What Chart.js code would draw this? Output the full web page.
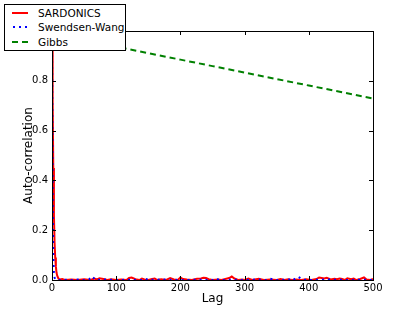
<!DOCTYPE html>
<html>
<head>
<meta charset="utf-8">
<script src="https://cdn.jsdelivr.net/npm/chart.js@4"></script>
<style>
  body { margin: 0; background: #fff; }
  #wrap { position: relative; width: 415px; height: 312px; }
  #legendBox {
    position: absolute; left: 4px; top: 4px; width: 120px; height: 45px;
    border: 1px solid #000; background: #fff;
    font-family: "DejaVu Sans", sans-serif; font-size: 10.5px; color: #000;
  }
  .row { position: absolute; left: 0; height: 14px; line-height: 14px; }
  .row svg { position: absolute; left: 7px; top: 5px; }
  .row span { position: absolute; left: 33px; white-space: nowrap; }
</style>
</head>
<body>
<div id="wrap">
  <canvas id="acChart" width="415" height="312"></canvas>
  <div id="legendBox">
    <div class="row" style="top:1px">
      <svg width="16" height="4"><line x1="0" y1="2" x2="16" y2="2" stroke="#ff0000" stroke-width="2"/></svg>
      <span>SARDONICS</span>
    </div>
    <div class="row" style="top:15px">
      <svg width="16" height="4"><line x1="1" y1="2" x2="16" y2="2" stroke="#0000ff" stroke-width="2" stroke-dasharray="2,4"/></svg>
      <span>Swendsen-Wang</span>
    </div>
    <div class="row" style="top:30px">
      <svg width="16" height="4"><line x1="0" y1="2" x2="16" y2="2" stroke="#008000" stroke-width="2" stroke-dasharray="6,4"/></svg>
      <span>Gibbs</span>
    </div>
  </div>
</div>
<script>
/* ===============================
   DATA
================================ */
const xTicks = [0, 100, 200, 300, 400, 500];
const yTicks = [0.0, 0.2, 0.4, 0.6, 0.8, 1.0];

const sardLags = [0, 1, 2, 3, 4, 5, 6, 7, 8, 10, 12, 16, 20, 30, 40, 50, 60, 66, 70, 74, 80, 86, 92, 100, 108, 116, 120, 124, 130, 136, 140, 144, 150, 156, 160, 164, 170, 178, 184, 190, 196, 200, 204, 210, 218, 226, 232, 236, 240, 244, 250, 258, 264, 270, 276, 280, 284, 290, 296, 300, 306, 312, 318, 322, 330, 340, 350, 356, 362, 368, 374, 380, 388, 396, 404, 412, 416, 420, 424, 428, 434, 440, 444, 448, 452, 456, 460, 466, 470, 474, 480, 486, 490, 496, 500];
const sardVals = [1.0, 0.72, 0.45, 0.26, 0.15, 0.09, 0.055, 0.03, 0.018, 0.006, 0.002, 0.004, 0.0, 0.002, 0.0, 0.003, 0.0, 0.006, 0.002, 0.007, 0.004, 0.0, 0.003, 0.0, 0.002, 0.0, 0.008, 0.01, 0.003, 0.0, 0.006, 0.002, 0.0, 0.004, 0.006, 0.0, 0.003, 0.0, 0.008, 0.002, 0.0, 0.01, 0.004, 0.002, 0.0, 0.005, 0.006, 0.009, 0.008, 0.003, 0.0, 0.002, 0.0, 0.004, 0.008, 0.014, 0.006, 0.0, 0.002, 0.0, 0.006, 0.0, 0.003, 0.005, 0.0, 0.002, 0.0, 0.004, 0.0, 0.003, 0.0, 0.002, 0.0, 0.003, 0.0, 0.004, 0.01, 0.008, 0.006, 0.009, 0.002, 0.005, 0.003, 0.006, 0.004, 0.0, 0.007, 0.003, 0.006, 0.0, 0.004, 0.01, 0.002, 0.0, 0.004];

const swLags = [0, 1, 2, 3, 4, 5, 10, 20, 30, 40, 50, 58, 62, 64, 68, 80, 100, 120, 140, 146, 150, 170, 200, 230, 250, 256, 260, 280, 300, 320, 334, 338, 350, 370, 374, 378, 384, 390, 400, 430, 460, 480, 500];
const swVals = [1.0, 0.32, 0.1, 0.03, 0.01, 0.003, 0.0, 0.001, 0.0, 0.002, 0.0, 0.003, 0.014, 0.01, 0.0, 0.002, 0.0, 0.001, 0.0, 0.005, 0.0, 0.002, 0.0, 0.001, 0.0, 0.006, 0.0, 0.001, 0.0, 0.002, 0.0, 0.006, 0.0, 0.002, 0.009, 0.003, 0.012, 0.002, 0.0, 0.002, 0.0, 0.001, 0.0];

const gibbsLags = [0, 50, 100, 150, 200, 250, 300, 350, 400, 450, 500];
const gibbsVals = [0.99, 0.963, 0.937, 0.911, 0.885, 0.859, 0.833, 0.807, 0.781, 0.755, 0.729];

function toPoints(lags, vals) {
    return lags.map((l, i) => ({ x: l, y: vals[i] }));
}

/* ===============================
   FRAME + INWARD TICKS
================================ */
const framePlugin = {
    id: "framePlugin",
    afterDatasetsDraw(chart) {
        const { ctx, chartArea: a, scales } = chart;
        ctx.save();
        ctx.strokeStyle = "#000";
        ctx.lineWidth = 1;
        ctx.beginPath();
        xTicks.forEach(v => {
            const px = Math.round(scales.x.getPixelForValue(v)) + 0.5;
            ctx.moveTo(px, a.bottom); ctx.lineTo(px, a.bottom - 4);
            ctx.moveTo(px, a.top); ctx.lineTo(px, a.top + 4);
        });
        yTicks.forEach(v => {
            const py = Math.round(scales.y.getPixelForValue(v)) + 0.5;
            ctx.moveTo(a.left, py); ctx.lineTo(a.left + 4, py);
            ctx.moveTo(a.right, py); ctx.lineTo(a.right - 4, py);
        });
        ctx.stroke();
        ctx.strokeRect(Math.round(a.left) + 0.5, Math.round(a.top) + 0.5,
            Math.round(a.right - a.left), Math.round(a.bottom - a.top));
        ctx.restore();
    }
};

/* ===============================
   CHART
================================ */
Chart.defaults.font.family = "'DejaVu Sans', sans-serif";
Chart.defaults.color = "#000";

new Chart(document.getElementById("acChart"), {
    type: "line",
    data: {
        datasets: [{
            label: "SARDONICS",
            data: toPoints(sardLags, sardVals),
            borderColor: "#ff0000",
            borderWidth: 2,
            order: 3
        }, {
            label: "Swendsen-Wang",
            data: toPoints(swLags, swVals),
            borderColor: "#0000ff",
            borderWidth: 2,
            borderDash: [2, 4],
            order: 2
        }, {
            label: "Gibbs",
            data: toPoints(gibbsLags, gibbsVals),
            borderColor: "#008000",
            borderWidth: 2,
            borderDash: [6, 4],
            order: 1
        }]
    },
    options: {
        responsive: false,
        animation: false,
        layout: { padding: { left: 0, top: 31, right: 42, bottom: 0 } },
        elements: { point: { radius: 0 }, line: { tension: 0 } },
        plugins: { legend: { display: false }, tooltip: { enabled: false } },
        scales: {
            x: {
                type: "linear",
                min: 0,
                max: 500,
                afterFit: s => { s.height = 32; },
                afterBuildTicks: s => { s.ticks = xTicks.map(v => ({ value: v })); },
                grid: { display: false, drawTicks: false },
                border: { display: false },
                ticks: { font: { size: 10 }, padding: 2, maxRotation: 0 },
                title: { display: true, text: "Lag", font: { size: 12 }, padding: { top: 0, bottom: 6 } }
            },
            y: {
                type: "linear",
                min: 0,
                max: 1,
                afterFit: s => { s.width = 52; },
                afterBuildTicks: s => { s.ticks = yTicks.map(v => ({ value: v })); },
                grid: { display: false, drawTicks: false },
                border: { display: false },
                ticks: { font: { size: 10 }, padding: 4, callback: v => v.toFixed(1) },
                title: { display: true, text: "Auto-correlation", font: { size: 12 }, padding: { top: 22, bottom: 0 } }
            }
        }
    },
    plugins: [framePlugin]
});
</script>
</body>
</html>
